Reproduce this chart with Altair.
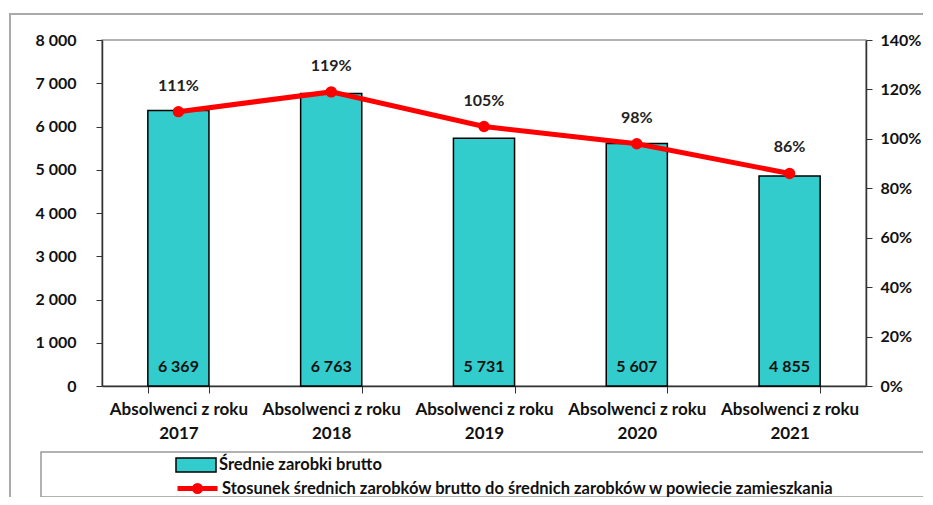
import altair as alt
import pandas as pd

categories = ["Absolwenci z roku 2017", "Absolwenci z roku 2018", "Absolwenci z roku 2019",
              "Absolwenci z roku 2020", "Absolwenci z roku 2021"]
salaries = [6369, 6763, 5731, 5607, 4855]
ratios = [1.11, 1.19, 1.05, 0.98, 0.86]
bar_series = "Średnie zarobki brutto"
line_series = "Stosunek średnich zarobków brutto do średnich zarobków w powiecie zamieszkania"
left_ticks = [0, 1000, 2000, 3000, 4000, 5000, 6000, 7000, 8000]
right_ticks = [0, 0.2, 0.4, 0.6, 0.8, 1.0, 1.2, 1.4]

FONT = "Lato"
TEAL = "#33CCCC"
RED = "#FF0000"

df = pd.DataFrame({
    "kat": categories,
    "zarobki": salaries,
    "stosunek": ratios,
    "s1": [bar_series] * len(categories),
    "s2": [line_series] * len(categories),
})

x_enc = alt.X(
    "kat:N", sort=categories, title=None,
    scale=alt.Scale(paddingInner=0.6, paddingOuter=0.3),
    axis=alt.Axis(
        labelAngle=0, tickBand="extent", tickSize=7, labelPadding=8,
        labelExpr="[slice(datum.label, 0, 17), slice(datum.label, 18)]",
        labelLineHeight=24, domainColor="#333333", tickColor="#333333",
        labelFontSize=17,
    ),
)

base = alt.Chart(df)

bars = base.mark_bar(stroke="black", strokeWidth=1.5).encode(
    x=x_enc,
    y=alt.Y("zarobki:Q", title=None,
            scale=alt.Scale(domain=[0, 8000]),
            axis=alt.Axis(values=left_ticks, grid=False, tickSize=6, labelPadding=20,
                          domainColor="#333333", tickColor="#333333",
                          labelExpr="replace(format(datum.value, ','), ',', ' ')")),
    fill=alt.Fill("s1:N", scale=alt.Scale(domain=[bar_series], range=[TEAL]),
                  legend=alt.Legend(orient="none", legendX=73, legendY=404, title=None,
                                    symbolType="M-1,-0.35H1V0.35H-1Z", symbolSize=1600,
                                    symbolStrokeColor="black", symbolStrokeWidth=1.5,
                                    labelOffset=2)),
)

bar_text = base.transform_calculate(
    lbl="replace(format(datum.zarobki, ','), ',', ' ')"
).mark_text(font=FONT, fontSize=16, fontWeight="bold", color="#111111", dy=-19).encode(
    x=alt.X("kat:N", sort=categories),
    y=alt.datum(0),
    text="lbl:N",
)

left = alt.layer(bars, bar_text)

line = base.mark_line(strokeWidth=5).encode(
    x=alt.X("kat:N", sort=categories),
    y=alt.Y("stosunek:Q", title=None,
            scale=alt.Scale(domain=[0, 1.4]),
            axis=alt.Axis(orient="right", values=right_ticks, format=".0%", grid=False,
                          tickSize=6, labelPadding=8,
                          domainColor="#333333", tickColor="#333333")),
    stroke=alt.Stroke("s2:N", scale=alt.Scale(domain=[line_series], range=[RED]),
                      legend=alt.Legend(orient="none", legendX=73, legendY=426, title=None,
                                        symbolType="M-1,0H1M-0.15,0A0.15,0.15 0 1,1 0.15,0A0.15,0.15 0 1,1 -0.15,0Z",
                                        symbolSize=1600, symbolStrokeWidth=5,
                                        symbolFillColor=RED, labelOffset=2)),
)

points = base.mark_circle(size=130, color=RED, opacity=1).encode(
    x=alt.X("kat:N", sort=categories),
    y=alt.Y("stosunek:Q"),
)

line_text = base.mark_text(font=FONT, fontSize=16, fontWeight="bold", color="#222222", dy=-26).encode(
    x=alt.X("kat:N", sort=categories),
    y=alt.Y("stosunek:Q"),
    text=alt.Text("stosunek:Q", format=".0%"),
)

right = alt.layer(line, points, line_text)

frame_df = pd.DataFrame({"k": [0]})
outer_frame = alt.Chart(frame_df).mark_rect(fill=None, stroke="#aaaaaa", strokeWidth=2).encode(
    x=alt.value(-92), x2=alt.value(860), y=alt.value(-26), y2=alt.value(520)
)
legend_box = alt.Chart(frame_df).mark_rect(fill=None, stroke="#999999", strokeWidth=1.5).encode(
    x=alt.value(-61), x2=alt.value(822), y=alt.value(412), y2=alt.value(457)
)

chart = alt.layer(outer_frame, legend_box, left, right).resolve_scale(
    y="independent", fill="independent", stroke="independent"
).properties(
    width=764, height=346,
    autosize=alt.AutoSizeParams(type="none"),
    padding={"left": 94, "top": 32, "right": 57, "bottom": 111},
).configure_view(
    stroke="#999999", strokeWidth=1.5
).configure_axis(
    labelFont=FONT, labelFontSize=16, labelFontWeight="bold", labelColor="#111111",
    domainWidth=1.5,
).configure_legend(
    labelFont=FONT, labelFontSize=16.5, labelFontWeight="bold", labelColor="#111111",
    labelLimit=0, padding=0,
)

chart.save("out.html", embed_options={"renderer": "svg", "actions": False})
